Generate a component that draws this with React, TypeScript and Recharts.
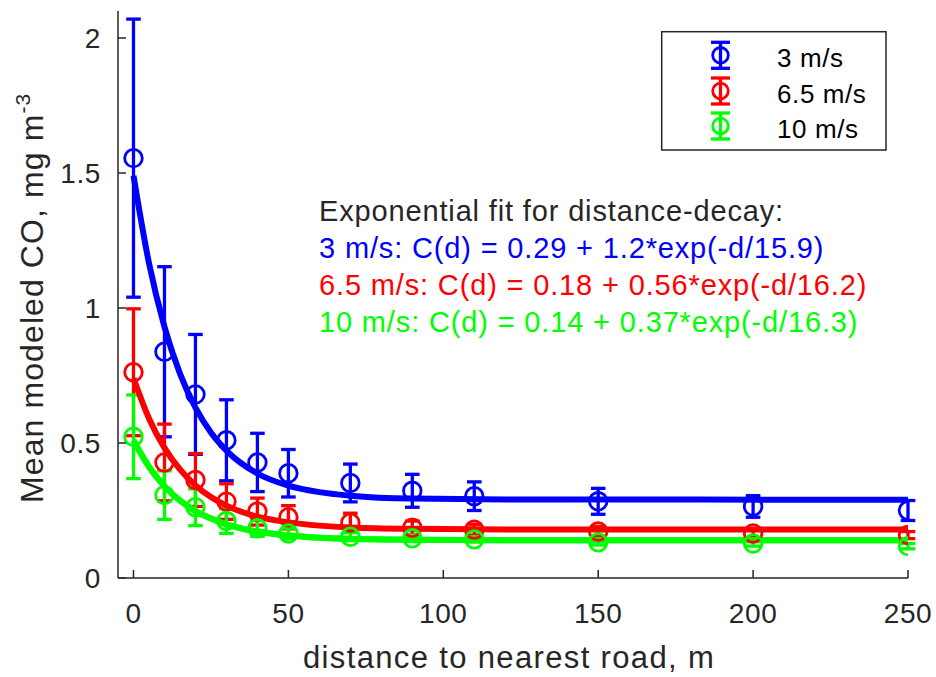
import React from "react";
import { ComposedChart, XAxis, YAxis, Line, Scatter, ErrorBar, Customized } from "recharts";

// ---------- data ----------
const distances = [0, 10, 20, 30, 40, 50, 70, 90, 110, 150, 200, 250];
const blueMean = [1.555, 0.838, 0.68, 0.51, 0.428, 0.388, 0.352, 0.323, 0.303, 0.284, 0.265, 0.25];
const blueErr = [0.515, 0.315, 0.222, 0.15, 0.108, 0.088, 0.07, 0.061, 0.053, 0.048, 0.04, 0.037];
const redMean = [0.762, 0.428, 0.363, 0.283, 0.246, 0.225, 0.205, 0.186, 0.179, 0.172, 0.165, 0.159];
const redErr = [0.235, 0.142, 0.098, 0.066, 0.05, 0.043, 0.035, 0.025, 0.02, 0.018, 0.015, 0.013];
const greenMean = [0.523, 0.307, 0.262, 0.211, 0.184, 0.165, 0.153, 0.147, 0.143, 0.132, 0.128, 0.118];
const greenErr = [0.155, 0.09, 0.068, 0.046, 0.03, 0.02, 0.015, 0.012, 0.01, 0.01, 0.01, 0.01];

const fitDistances = [0, 5, 10, 15, 20, 25, 30, 40, 50, 60, 70, 90, 120, 250];
const blueFit = [1.49, 1.166, 0.93, 0.757, 0.631, 0.539, 0.472, 0.387, 0.342, 0.318, 0.305, 0.294, 0.291, 0.29];
const redFit = [0.74, 0.591, 0.482, 0.402, 0.343, 0.3, 0.268, 0.227, 0.206, 0.194, 0.187, 0.182, 0.18, 0.18];
const greenFit = [0.51, 0.412, 0.34, 0.287, 0.248, 0.22, 0.199, 0.172, 0.157, 0.149, 0.145, 0.1415, 0.14, 0.14];

const seriesNames = ["3 m/s", "6.5 m/s", "10 m/s"];
const seriesColors = ["#0000ff", "#ff0000", "#00ff00"];
const fitLabels = [
  "3 m/s: C(d) = 0.29 + 1.2*exp(-d/15.9)",
  "6.5 m/s: C(d) = 0.18 + 0.56*exp(-d/16.2)",
  "10 m/s: C(d) = 0.14 + 0.37*exp(-d/16.3)",
];
const fitTitle = "Exponential fit for distance-decay:";
const xTicks = [0, 50, 100, 150, 200, 250];
const yTicks = [0, 0.5, 1, 1.5, 2];
const xLabel = "distance to nearest road, m";
const yLabel = "Mean modeled CO, mg m";
const yLabelSup = "-3";

// ---------- derived ----------
const means = [blueMean, redMean, greenMean];
const errs = [blueErr, redErr, greenErr];
const fits = [blueFit, redFit, greenFit];
const pointData = means.map((m, s) => distances.map((x, i) => ({ x, y: m[i], err: errs[s][i] })));
const fitData = fits.map((f) => fitDistances.map((x, i) => ({ x, y: f[i] })));

const FONT = '"Liberation Sans", Arial, Helvetica, sans-serif';
const AX = "#262626";
const TICK = 8;

const BottomTick = (p: any) => (
  <g>
    <line x1={p.x} y1={p.y} x2={p.x} y2={p.y - TICK} stroke={AX} strokeWidth={1.5} />
    <text x={p.x} y={p.y + 44.7} textAnchor="middle" fontFamily={FONT} fontSize={28} letterSpacing={0.6} fill={AX}>
      {String(p.payload.value)}
    </text>
  </g>
);
const TopTick = (p: any) => (
  <line x1={p.x} y1={p.y} x2={p.x} y2={p.y + TICK} stroke={AX} strokeWidth={1.5} />
);
const LeftTick = (p: any) => (
  <g>
    <line x1={p.x} y1={p.y} x2={p.x + TICK} y2={p.y} stroke={AX} strokeWidth={1.5} />
    <text x={p.x - 17} y={p.y + 10} textAnchor="end" fontFamily={FONT} fontSize={28} letterSpacing={0.6} fill={AX}>
      {String(p.payload.value)}
    </text>
  </g>
);
const RightTick = (p: any) => (
  <line x1={p.x} y1={p.y} x2={p.x - TICK} y2={p.y} stroke={AX} strokeWidth={1.5} />
);

const makeShape = (color: string) => (p: any) => (
  <circle cx={p.cx} cy={p.cy} r={8.8} fill="none" stroke={color} strokeWidth={2.8} />
);

const Overlay = () => {
  const legendRowsIcon = [55.3, 91, 126];
  const legendRowsText = [66.7, 103.3, 138.3];
  const annotBase = [258.3, 295, 331.7];
  return (
    <g>
      <text x={319} y={220.7} fontFamily={FONT} fontSize={29} letterSpacing={0.85} fill={AX}>
        {fitTitle}
      </text>
      {fitLabels.map((t, i) => (
        <text key={t} x={319} y={annotBase[i]} fontFamily={FONT} fontSize={29} letterSpacing={0.85} fill={seriesColors[i]}>
          {t}
        </text>
      ))}
      <rect x={661.7} y={31.7} width={224.3} height={118.3} fill="#ffffff" stroke={AX} strokeWidth={1.5} />
      {seriesNames.map((n, i) => {
        const cx = 720.5;
        const cy = legendRowsIcon[i];
        const c = seriesColors[i];
        return (
          <g key={n}>
            <line x1={cx} y1={cy - 13} x2={cx} y2={cy + 13} stroke={c} strokeWidth={3.3} />
            <line x1={cx - 9.5} y1={cy - 13} x2={cx + 9.5} y2={cy - 13} stroke={c} strokeWidth={3.3} />
            <line x1={cx - 9.5} y1={cy + 13} x2={cx + 9.5} y2={cy + 13} stroke={c} strokeWidth={3.3} />
            <circle cx={cx} cy={cy} r={7.8} fill="none" stroke={c} strokeWidth={2.8} />
            <text x={777} y={legendRowsText[i]} fontFamily={FONT} fontSize={26} letterSpacing={0.6} fill="#000000">
              {n}
            </text>
          </g>
        );
      })}
      <text x={303} y={668.3} fontFamily={FONT} fontSize={31} letterSpacing={1.35} fill={AX}>
        {xLabel}
      </text>
      <text
        x={43.3}
        y={503}
        transform="rotate(-90 43.3 503)"
        fontFamily={FONT}
        fontSize={32}
        letterSpacing={1.1}
        fill={AX}
      >
        {yLabel}
        <tspan dy={-13} fontSize={21}>
          {yLabelSup}
        </tspan>
      </text>
    </g>
  );
};

export default function App() {
  return (
    <div style={{ position: "absolute", left: 0, top: 0, background: "#ffffff" }}>
      <ComposedChart width={936} height={677} margin={{ top: 11, right: 28, bottom: 0, left: 0 }}>
        <XAxis
          type="number"
          dataKey="x"
          domain={[-5, 250]}
          allowDataOverflow
          ticks={xTicks}
          interval={0}
          orientation="bottom"
          height={99}
          tickSize={0}
          tickMargin={0}
          tickLine={false}
          axisLine={{ stroke: AX, strokeWidth: 1.5 }}
          tick={BottomTick}
        />
        <XAxis
          xAxisId="top"
          type="number"
          dataKey="x"
          domain={[-5, 250]}
          allowDataOverflow
          ticks={xTicks}
          interval={0}
          orientation="top"
          height={0}
          tickSize={0}
          tickMargin={0}
          tickLine={false}
          axisLine={{ stroke: AX, strokeWidth: 1.5 }}
          tick={TopTick}
        />
        <YAxis
          type="number"
          dataKey="y"
          domain={[0, 2.1]}
          allowDataOverflow
          ticks={yTicks}
          interval={0}
          orientation="left"
          width={118}
          tickSize={0}
          tickMargin={0}
          tickLine={false}
          axisLine={{ stroke: AX, strokeWidth: 1.5 }}
          tick={LeftTick}
        />
        <YAxis
          yAxisId="right"
          type="number"
          dataKey="y"
          domain={[0, 2.1]}
          allowDataOverflow
          ticks={yTicks}
          interval={0}
          orientation="right"
          width={0}
          tickSize={0}
          tickMargin={0}
          tickLine={false}
          axisLine={{ stroke: AX, strokeWidth: 1.5 }}
          tick={RightTick}
        />
        {pointData.map((d, s) => (
          <Scatter
            key={"pts" + s}
            name={seriesNames[s]}
            data={d}
            fill="none"
            shape={makeShape(seriesColors[s])}
            isAnimationActive={false}
          >
            <ErrorBar dataKey="err" direction="y" width={7.3} stroke={seriesColors[s]} strokeWidth={3.3} isAnimationActive={false} />
          </Scatter>
        ))}
        {fitData.map((d, s) => (
          <Line
            key={"fit" + s}
            data={d}
            dataKey="y"
            type="monotone"
            stroke={seriesColors[s]}
            strokeWidth={6}
            dot={false}
            activeDot={false}
            isAnimationActive={false}
          />
        ))}
        <Line
          xAxisId="top"
          yAxisId="right"
          data={fitData[2]}
          dataKey="y"
          type="monotone"
          stroke={seriesColors[2]}
          strokeWidth={6}
          dot={false}
          activeDot={false}
          isAnimationActive={false}
        />
        <Customized component={Overlay} />
      </ComposedChart>
    </div>
  );
}
